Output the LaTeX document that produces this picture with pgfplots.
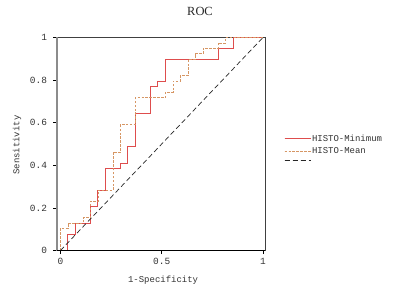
\documentclass[border=0pt]{standalone}
\usepackage{fontspec}
\setmainfont{Liberation Mono}
\newfontfamily\titlefont{Liberation Serif}
\usepackage{pgfplots}
\pgfplotsset{compat=1.18}
\definecolor{minred}{RGB}{222,77,77}
\definecolor{meantan}{RGB}{214,150,100}
\begin{document}
\begin{tikzpicture}
\path[use as bounding box] (0,0) rectangle (400bp,296bp);
\begin{axis}[
  at={(57bp,45.5bp)}, anchor=south west,
  scale only axis, width=208bp, height=213bp,
  xmin=-0.017, xmax=1.01, ymin=0, ymax=1,
  clip=false,
  axis line style={draw=black!75, line width=0.6pt},
  xtick={0,0.5,1}, xticklabels={0,0.5,1},
  ytick={0,0.2,0.4,0.6,0.8,1}, yticklabels={0,0.2,0.4,0.6,0.8,1},
  /pgf/number format/assume math mode=true,
  tick align=outside, tick pos=left,
  major tick length=3.5bp,
  tick style={black, line width=0.6pt},
  ticklabel style={font=\fontsize{9.5}{10}\selectfont, black!80},
  yticklabel style={xshift=-3bp},
  xticklabel style={yshift=-1bp},
  title={ROC},
  title style={at={(axis description cs:0.6875,1.096)}, anchor=center, font=\titlefont\fontsize{12.5}{14}\selectfont, black!85},
  xlabel={1-Specificity},
  xlabel style={at={(axis description cs:0.51,-0.1385)}, anchor=center, font=\fontsize{9}{10}\selectfont, black!80},
  ylabel={Sensitivity},
  ylabel style={at={(axis description cs:-0.192,0.495)}, anchor=center, font=\fontsize{9}{10}\selectfont, black!80},
  legend style={at={(axis description cs:1.091,0.480)}, anchor=west, draw=none, fill=none,
    inner sep=0pt, row sep=2.8bp, font=\fontsize{9}{10}\selectfont, text=black!80,
    nodes={inner sep=1bp}},
  legend cell align=left,
  legend image code/.code={\path (0bp,0bp) -- (26bp,0bp); \draw[#1] (0bp,0bp) -- (21bp,0bp);},
]
\addplot[minred, line width=0.95pt, sharp plot] coordinates {
(0,0) (0.0370,0) (0.0370,0.0769) (0.0741,0.0769) (0.0741,0.1282) (0.1481,0.1282)
(0.1481,0.2051) (0.1852,0.2051) (0.1852,0.2821) (0.2222,0.2821) (0.2222,0.3846)
(0.2963,0.3846) (0.2963,0.4103) (0.3333,0.4103) (0.3333,0.4872) (0.3704,0.4872)
(0.3704,0.6410) (0.4444,0.6410) (0.4444,0.7692) (0.4815,0.7692) (0.4815,0.7949)
(0.5185,0.7949) (0.5185,0.8974) (0.7778,0.8974) (0.7778,0.9487) (0.8519,0.9487)
(0.8519,1) (1,1)};
\addlegendentry{HISTO-Minimum}
\addplot[meantan, line width=0.85pt, dash pattern=on 2.5bp off 1.4bp] coordinates {
(0,0) (0,0.1026) (0.0370,0.1026) (0.0370,0.1282) (0.1111,0.1282) (0.1111,0.1538)
(0.1481,0.1538) (0.1481,0.2308) (0.1852,0.2308) (0.1852,0.2821) (0.2593,0.2821)
(0.2593,0.4615) (0.2963,0.4615) (0.2963,0.5897) (0.3704,0.5897) (0.3704,0.7179)
(0.5185,0.7179) (0.5185,0.7436) (0.5556,0.7436) (0.5556,0.7949) (0.5926,0.7949)
(0.5926,0.8205) (0.6296,0.8205) (0.6296,0.8974) (0.6667,0.8974) (0.6667,0.9231)
(0.7037,0.9231) (0.7037,0.9487) (0.7778,0.9487) (0.7778,0.9744) (0.8148,0.9744)
(0.8148,1) (1,1)};
\addlegendentry{HISTO-Mean}
\addplot[black!85, line width=0.7pt, dash pattern=on 5bp off 3bp] coordinates {(0,0) (1,1)};
\addlegendentry{}
\draw[black!45, line width=1.3pt] (rel axis cs:0,0) -- (rel axis cs:0,1);
\draw[black, line width=0.9pt] (rel axis cs:0,0) -- (rel axis cs:1,0);
\end{axis}
\end{tikzpicture}
\end{document}
